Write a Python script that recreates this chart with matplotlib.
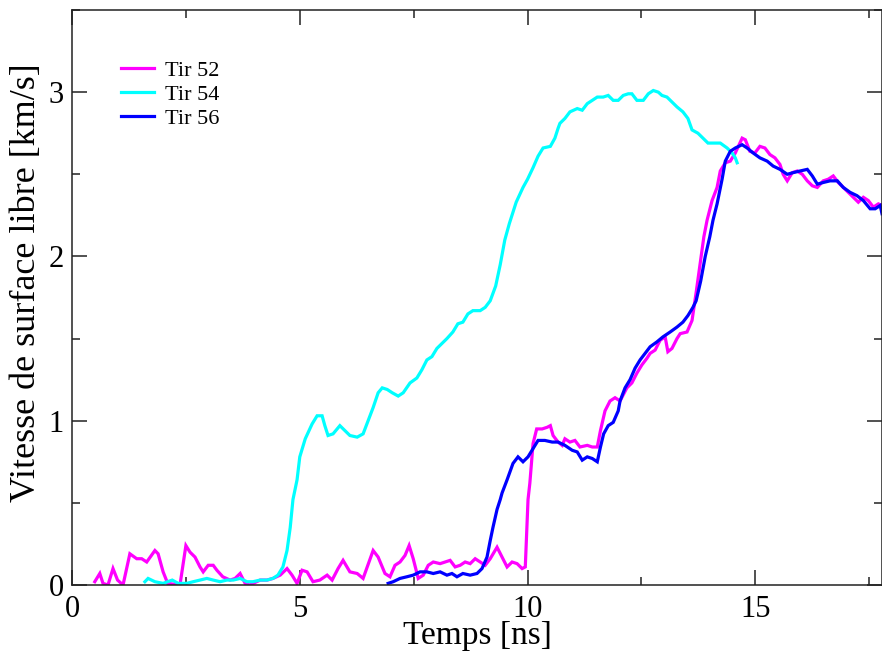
import matplotlib
matplotlib.use("Agg")
import matplotlib.pyplot as plt
from matplotlib.ticker import MultipleLocator

plt.rcParams['font.family'] = ['Liberation Serif', 'DejaVu Serif']

# Tir 52 (magenta)
t52 = [0.5, 0.61, 0.68, 0.79, 0.9, 1.0, 1.12, 1.27, 1.42, 1.53, 1.64, 1.82, 1.89, 2.0, 2.1,
       2.37, 2.5, 2.59, 2.70, 2.81, 2.88, 2.99, 3.1, 3.18, 3.31, 3.47, 3.58, 3.69, 3.8, 3.9,
       4.13, 4.28, 4.41, 4.57, 4.72, 4.83, 4.94, 5.05, 5.16, 5.29, 5.44, 5.6, 5.71, 5.84,
       5.95, 6.1, 6.26, 6.39, 6.61, 6.72, 6.87, 6.98, 7.09, 7.2, 7.31, 7.4, 7.49, 7.6, 7.71,
       7.82, 7.93, 8.08, 8.19, 8.3, 8.41, 8.52, 8.63, 8.74, 8.85, 8.96, 9.07, 9.18, 9.33,
       9.44, 9.55, 9.66, 9.77, 9.88, 9.95, 10.01, 10.05, 10.12, 10.2, 10.32, 10.43, 10.5,
       10.56, 10.67, 10.76, 10.82, 10.93, 11.04, 11.15, 11.31, 11.42, 11.53, 11.6, 11.7,
       11.81, 11.92, 12.03, 12.18, 12.29, 12.4, 12.51, 12.62, 12.69, 12.8, 12.91, 13.02,
       13.08, 13.17, 13.28, 13.35, 13.5, 13.61, 13.7, 13.8, 13.87, 13.94, 14.05, 14.16,
       14.23, 14.34, 14.45, 14.56, 14.71, 14.78, 14.88, 14.99, 15.1, 15.21, 15.32, 15.43,
       15.54, 15.61, 15.7, 15.81, 15.92, 16.03, 16.14, 16.25, 16.36, 16.49, 16.6, 16.71,
       16.82, 16.93, 17.04, 17.15, 17.26, 17.37, 17.48, 17.59, 17.7, 17.78]
v52 = [0.02, 0.07, 0.01, 0.0, 0.10, 0.03, 0.0, 0.19, 0.16, 0.16, 0.14, 0.21, 0.19, 0.08, 0.01,
       0.0, 0.24, 0.20, 0.17, 0.11, 0.08, 0.12, 0.12, 0.09, 0.05, 0.03, 0.04, 0.07, 0.01, 0.0,
       0.03, 0.03, 0.04, 0.06, 0.10, 0.06, 0.01, 0.09, 0.08, 0.02, 0.03, 0.06, 0.03, 0.10,
       0.15, 0.08, 0.07, 0.04, 0.21, 0.17, 0.07, 0.05, 0.12, 0.14, 0.18, 0.24, 0.16, 0.04, 0.06,
       0.12, 0.14, 0.13, 0.14, 0.15, 0.11, 0.12, 0.14, 0.13, 0.16, 0.14, 0.12, 0.16, 0.23,
       0.17, 0.11, 0.14, 0.13, 0.10, 0.11, 0.52, 0.62, 0.86, 0.95, 0.95, 0.96, 0.97,
       0.91, 0.87, 0.85, 0.89, 0.87, 0.88, 0.84, 0.85, 0.84, 0.84, 0.94, 1.06,
       1.12, 1.14, 1.12, 1.20, 1.23, 1.29, 1.34, 1.38, 1.41, 1.43, 1.49, 1.51,
       1.42, 1.44, 1.50, 1.53, 1.54, 1.61, 1.78, 1.98, 2.12, 2.22, 2.34, 2.42,
       2.52, 2.57, 2.58, 2.63, 2.72, 2.71, 2.64, 2.63, 2.67, 2.66, 2.62, 2.60,
       2.56, 2.50, 2.46, 2.51, 2.52, 2.50, 2.46, 2.43, 2.42, 2.46, 2.47, 2.49,
       2.45, 2.42, 2.39, 2.36, 2.33, 2.36, 2.34, 2.30, 2.32, 2.31]

# Tir 54 (cyan)
t54 = [1.6, 1.67, 1.82, 2.0, 2.2, 2.33, 2.52, 2.66, 2.81, 2.96, 3.1, 3.25, 3.4, 3.54, 3.69,
       3.84, 3.97, 4.13, 4.28, 4.41, 4.52, 4.63, 4.72, 4.79, 4.85, 4.94, 5.0, 5.12, 5.27,
       5.38, 5.49, 5.55, 5.62, 5.73, 5.88, 5.99, 6.1, 6.26, 6.39, 6.5, 6.61, 6.72, 6.81,
       6.92, 7.03, 7.16, 7.27, 7.42, 7.57, 7.68, 7.79, 7.9, 8.01, 8.12, 8.23, 8.36, 8.47,
       8.58, 8.69, 8.8, 8.96, 9.07, 9.18, 9.3, 9.4, 9.5, 9.6, 9.75, 9.9, 10.0, 10.12, 10.23,
       10.34, 10.5, 10.6, 10.67, 10.71, 10.82, 10.93, 11.09, 11.2, 11.31, 11.42, 11.53,
       11.66, 11.77, 11.88, 11.99, 12.1, 12.21, 12.29, 12.4, 12.54, 12.65, 12.76, 12.87,
       12.95, 13.06, 13.17, 13.28, 13.41, 13.52, 13.61, 13.74, 13.85, 13.96, 14.07, 14.23,
       14.38, 14.49, 14.56, 14.6]
v54 = [0.02, 0.04, 0.02, 0.01, 0.03, 0.01, 0.01, 0.02, 0.03, 0.04, 0.03, 0.02, 0.03, 0.03, 0.04,
       0.02, 0.02, 0.03, 0.03, 0.04, 0.06, 0.11, 0.21, 0.35, 0.52, 0.64, 0.78, 0.89, 0.98,
       1.03, 1.03, 0.97, 0.91, 0.92, 0.97, 0.94, 0.91, 0.90, 0.92, 1.0, 1.08, 1.17, 1.20,
       1.19, 1.17, 1.15, 1.17, 1.23, 1.26, 1.31, 1.37, 1.39, 1.44, 1.47, 1.50, 1.54, 1.59,
       1.60, 1.65, 1.67, 1.67, 1.69, 1.73, 1.82, 1.95, 2.1, 2.2, 2.33, 2.42, 2.47, 2.54, 2.61,
       2.66, 2.67, 2.72, 2.78, 2.81, 2.84, 2.88, 2.90, 2.89, 2.93, 2.95, 2.97,
       2.97, 2.98, 2.95, 2.95, 2.98, 2.99, 2.99, 2.95, 2.95, 2.99, 3.01, 3.0,
       2.98, 2.97, 2.94, 2.91, 2.88, 2.84, 2.77, 2.75, 2.72, 2.69, 2.69, 2.69,
       2.66, 2.63, 2.60, 2.57]

# Tir 56 (blue)
t56 = [6.94, 7.05, 7.2, 7.35, 7.49, 7.64, 7.79, 7.93, 8.08, 8.23, 8.34, 8.45, 8.58, 8.74,
       8.89, 9.0, 9.11, 9.18, 9.24, 9.33, 9.4, 9.44, 9.55, 9.68, 9.79, 9.9, 10.01, 10.12,
       10.23, 10.38, 10.54, 10.67, 10.82, 10.98, 11.09, 11.2, 11.31, 11.42, 11.53, 11.6,
       11.67, 11.77, 11.88, 11.99, 12.03, 12.14, 12.25, 12.36, 12.47, 12.58, 12.69, 12.84,
       12.97, 13.13, 13.28, 13.41, 13.52, 13.63, 13.7, 13.8, 13.9, 14.0, 14.07, 14.16,
       14.27, 14.34, 14.45, 14.56, 14.71, 14.82, 14.95, 15.1, 15.26, 15.39, 15.54, 15.7,
       15.83, 15.98, 16.14, 16.25, 16.36, 16.49, 16.64, 16.8, 16.93, 17.08, 17.23, 17.37,
       17.52, 17.63, 17.74, 17.78]
v56 = [0.01, 0.02, 0.04, 0.05, 0.06, 0.08, 0.08, 0.07, 0.08, 0.06, 0.07, 0.05, 0.07, 0.06,
       0.07, 0.10, 0.17, 0.27, 0.35, 0.46, 0.52, 0.56, 0.64, 0.74, 0.78, 0.75, 0.78, 0.83,
       0.88, 0.88, 0.87, 0.87, 0.85, 0.82, 0.81, 0.76, 0.78, 0.77, 0.75, 0.84,
       0.92, 0.97, 0.99, 1.06, 1.12, 1.20, 1.25, 1.32, 1.37, 1.41, 1.45, 1.48,
       1.51, 1.54, 1.57, 1.60, 1.64, 1.69, 1.73, 1.85, 2.0, 2.12, 2.22, 2.32,
       2.47, 2.58, 2.64, 2.66, 2.68, 2.66, 2.63, 2.60, 2.58, 2.55, 2.53, 2.50,
       2.51, 2.52, 2.53, 2.49, 2.44, 2.45, 2.46, 2.46, 2.42, 2.39, 2.37, 2.34,
       2.29, 2.29, 2.31, 2.26]

labels = ["Tir 52", "Tir 54", "Tir 56"]
colors = ["#ff00ff", "#00ffff", "#0000ff"]

fig = plt.figure(figsize=(8.82, 6.56), dpi=100)
ax = fig.add_axes([72/882, 1 - 585/656, 810/882, 575/656])

for t, v, lab, c in zip([t52, t54, t56], [v52, v54, v56], labels, colors):
    ax.plot(t, v, color=c, lw=2.3, label=lab, solid_joinstyle='miter')

ax.set_xlim(0, 17.78)
ax.set_ylim(0, 3.5)
ax.xaxis.set_major_locator(MultipleLocator(5))
ax.xaxis.set_minor_locator(MultipleLocator(2.5))
ax.yaxis.set_major_locator(MultipleLocator(1))
ax.yaxis.set_minor_locator(MultipleLocator(0.5))
ax.tick_params(which='both', direction='in', top=True, right=True, width=1.1, color='#222222')
ax.tick_params(which='major', length=11, labelsize=22, pad=7)
ax.tick_params(axis='y', which='major', pad=6)
ax.tick_params(which='minor', length=5.5)
for s in ax.spines.values():
    s.set_linewidth(1.1)
    s.set_color('#222222')

ax.set_xlabel("Temps [ns]", fontsize=24, labelpad=-2)
ax.set_ylabel("Vitesse de surface libre [km/s]", fontsize=26)
ax.yaxis.set_label_coords(-0.036, 0.525)

leg = ax.legend(loc='upper left', bbox_to_anchor=(0.061, 0.913), frameon=False,
                fontsize=16, handlelength=1.45, handletextpad=0.5, labelspacing=0.16,
                borderaxespad=0, borderpad=0)

fig.savefig("out.png", dpi=100)
